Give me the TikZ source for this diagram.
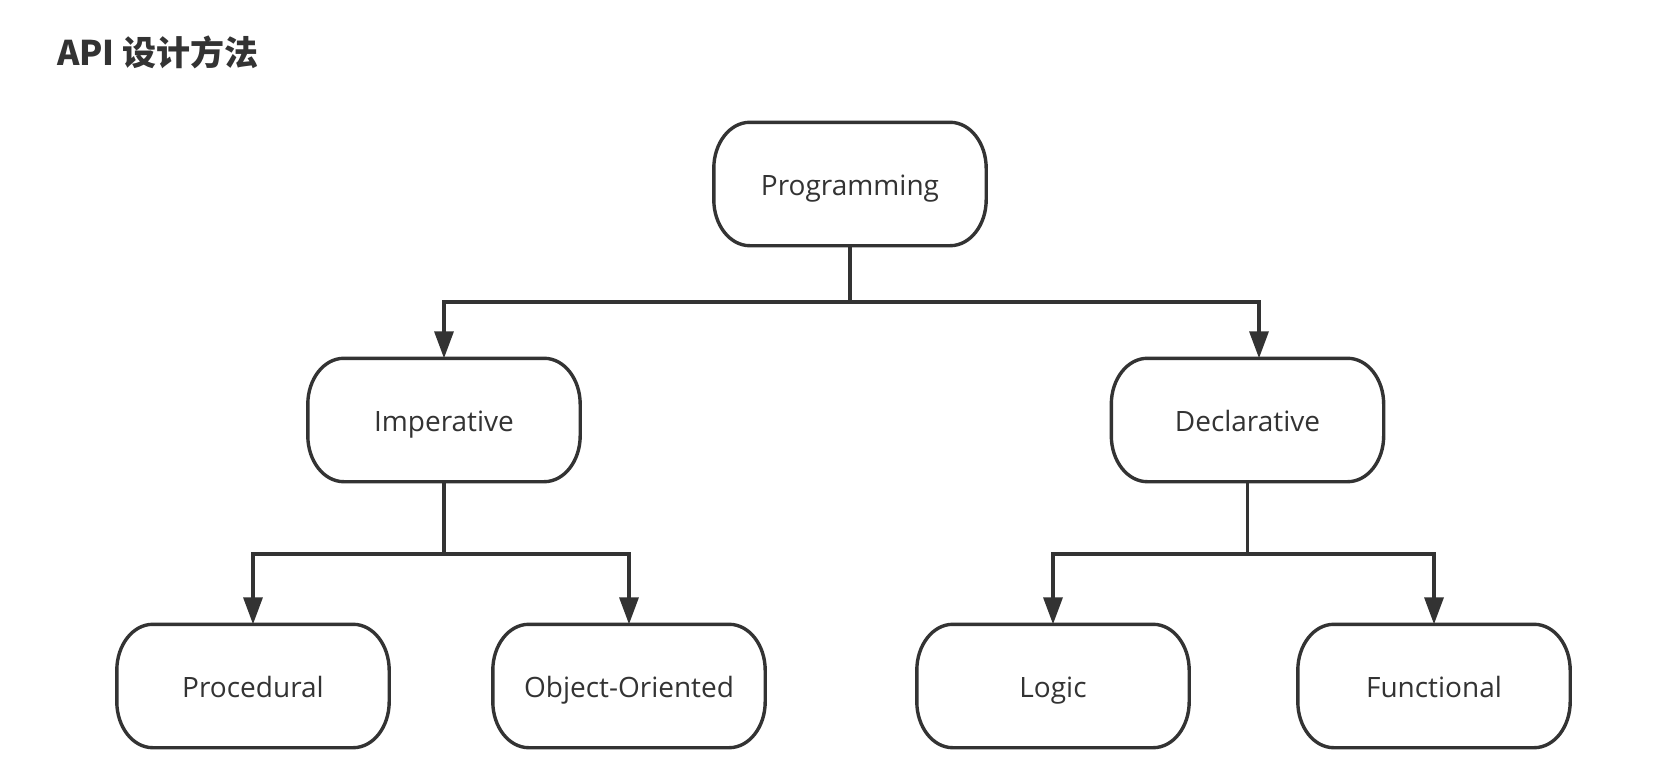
\documentclass[tikz,border=0pt]{standalone}
\usepackage{fontspec}
\setmainfont{Open Sans}
\newfontfamily\cjk{Noto Sans CJK SC}
\usetikzlibrary{arrows.meta}
\definecolor{linecol}{HTML}{333333}
\definecolor{txtcol}{HTML}{333333}
\tikzset{
  box/.style={minimum width=272pt, minimum height=123pt, inner sep=0pt,
    text height=26pt, text depth=4pt,
    text=txtcol, font=\fontsize{28}{32}\selectfont},
  boxline/.style={draw=linecol, line width=3.4pt, line join=round},
  conn/.style={draw=linecol, line width=3.4pt},
  arr/.style={conn, -{Triangle[width=19pt,length=27pt]}},
  titlestyle/.style={anchor=base west, inner sep=0pt, text=txtcol,
    font=\cjk\bfseries\fontsize{34}{40}\selectfont}
}
\newcommand\rboxoutline[1]{%
  \draw[boxline] ([xshift=36pt]#1.north west) -- ([xshift=-36pt]#1.north east)
    arc[start angle=90,end angle=0,x radius=36pt,y radius=46pt]
    -- ([yshift=46pt]#1.south east)
    arc[start angle=0,end angle=-90,x radius=36pt,y radius=46pt]
    -- ([xshift=36pt]#1.south west)
    arc[start angle=270,end angle=180,x radius=36pt,y radius=46pt]
    -- ([yshift=-46pt]#1.north west)
    arc[start angle=180,end angle=90,x radius=36pt,y radius=46pt]
    -- cycle;}
\begin{document}
\begin{tikzpicture}[x=1pt,y=-1pt]
\useasboundingbox[fill=white] (0,0) rectangle (1657,784);
\node[titlestyle] (title) at (57,66) {API 设计方法};
\node[box] (prog) at (850,184) {Programming};
\node[box] (imp) at (444,420) {Imperative};
\node[box] (decl) at (1247.5,420) {Declarative};
\node[box] (proc) at (253,686) {Procedural};
\node[box] (oo) at (629,686) {Object-Oriented};
\node[box] (logic) at (1053,686) {Logic};
\node[box] (func) at (1434,686) {Functional};
\foreach \n in {prog,imp,decl,proc,oo,logic,func}{\rboxoutline{\n}}
\coordinate (h1) at (0,302);
\coordinate (h2) at (0,554);
\coordinate (j1) at (prog.south |- h1);
\coordinate (j2) at (imp.south |- h2);
\coordinate (j3) at (decl.south |- h2);
\coordinate (dtop) at ([xshift=11.5pt]decl.north);
\draw[conn] (prog.south) -- (j1);
\draw[arr] (j1) -| (imp.north);
\draw[arr] (j1) -| (dtop);
\draw[conn] (imp.south) -- (j2);
\draw[arr] (j2) -| (proc.north);
\draw[arr] (j2) -| (oo.north);
\draw[conn] (decl.south) -- (j3);
\draw[arr] (j3) -| (logic.north);
\draw[arr] (j3) -| (func.north);
\end{tikzpicture}
\end{document}
